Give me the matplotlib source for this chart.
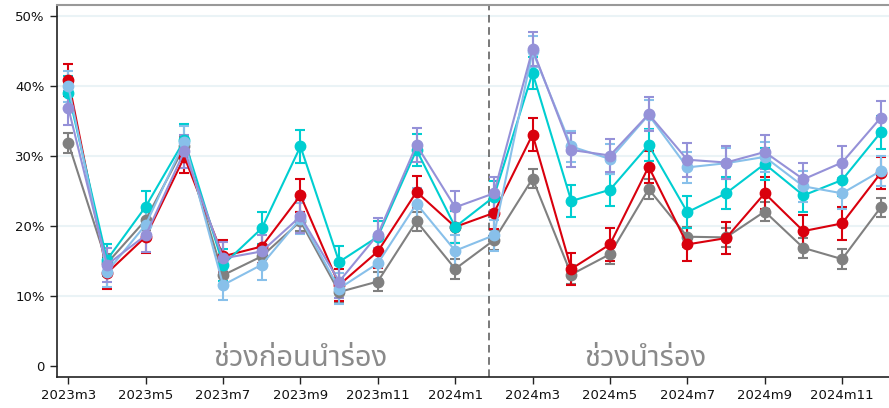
import matplotlib
matplotlib.use("Agg")
import matplotlib.pyplot as plt
from matplotlib.ticker import FuncFormatter

months = ["2023m3", "2023m4", "2023m5", "2023m6", "2023m7", "2023m8", "2023m9",
          "2023m10", "2023m11", "2023m12", "2024m1", "2024m2", "2024m3", "2024m4",
          "2024m5", "2024m6", "2024m7", "2024m8", "2024m9", "2024m10", "2024m11",
          "2024m12"]

# monthly shares (%) for each group
red = [40.9, 13.3, 18.5, 29.9, 15.7, 17.1, 24.4, 11.6, 16.4, 24.9, 19.9, 21.9,
       33.1, 13.9, 17.4, 28.5, 17.4, 18.3, 24.7, 19.3, 20.4, 27.6]
gray = [31.9, 14.7, 20.9, 31.4, 13.0, 15.7, 20.7, 10.6, 12.1, 20.7, 13.9, 18.0,
        26.8, 13.1, 16.0, 25.3, 18.5, 18.4, 22.1, 16.9, 15.3, 22.7]
cyan = [39.1, 15.2, 22.8, 32.3, 14.5, 19.7, 31.4, 14.9, 18.5, 30.9, 19.9, 24.2,
        41.9, 23.6, 25.2, 31.6, 22.0, 24.7, 28.9, 24.4, 26.6, 33.4]
lightblue = [40.0, 13.5, 20.2, 32.1, 11.6, 14.5, 21.1, 11.1, 14.7, 23.2, 16.5, 18.7,
             45.0, 31.4, 29.6, 35.9, 28.4, 29.0, 29.9, 25.7, 24.7, 27.9]
purple = [36.9, 14.5, 18.7, 30.7, 15.4, 16.4, 21.4, 12.1, 18.8, 31.6, 22.7, 24.7,
          45.3, 30.9, 30.1, 36.0, 29.5, 29.1, 30.6, 26.7, 29.1, 35.5]

# half-width of the confidence intervals (percentage points)
err_red = 2.3
err_gray = 1.4
err_cyan = 2.3
err_lightblue = 2.2
err_purple = 2.4

tick_labels = months[::2]
period_labels = ["ช่วงก่อนนำร่อง", "ช่วงนำร่อง"]
pilot_start = 10.88

fig = plt.figure(figsize=(8.89, 4.08), dpi=100)
ax = fig.add_axes([0.0638, 0.0767, 0.94, 0.911])

x = list(range(len(months)))
series = [
    (gray, err_gray, "#808080"),
    (red, err_red, "#D9000D"),
    (cyan, err_cyan, "#00CED1"),
    (lightblue, err_lightblue, "#88C0EA"),
    (purple, err_purple, "#9591D8"),
]
for vals, err, col in series:
    ax.errorbar(x, vals, yerr=err, color=col, ecolor=col, lw=1.5, elinewidth=1.5,
                marker="o", ms=7.5, capsize=3.6, capthick=1.5, zorder=3)

ax.axvline(pilot_start, color="#555555", lw=1.1, ls=(0, (5, 3)), zorder=2)

ax.set_xlim(-0.3, 21.3)
ax.set_ylim(-1.5, 51.6)
ax.set_yticks([0, 10, 20, 30, 40, 50])
ax.yaxis.set_major_formatter(FuncFormatter(lambda v, p: "0" if v == 0 else f"{v:.0f}%"))
ax.set_xticks(x[::2])
ax.set_xticklabels(tick_labels)
ax.tick_params(axis="both", labelsize=9.5, length=5, width=1, color="#222222",
               labelcolor="#111111")

for v in [10, 20, 30, 40, 50]:
    ax.axhline(v, color="#EAF3F6", lw=1.5, zorder=0)

ax.spines["right"].set_visible(False)
ax.spines["top"].set_color("#999999")
ax.spines["top"].set_linewidth(1.5)
ax.spines["left"].set_color("#222222")
ax.spines["bottom"].set_color("#222222")
ax.spines["left"].set_linewidth(1.2)
ax.spines["bottom"].set_linewidth(1.2)

for xpos, label in zip([6.0, 14.93], period_labels):
    ax.text(xpos, 0.0, label, color="#8A8A8A", ha="center", va="baseline",
            fontsize=21, family=["Noto Sans Thai", "DejaVu Sans"])

fig.savefig("out.png", dpi=100)
